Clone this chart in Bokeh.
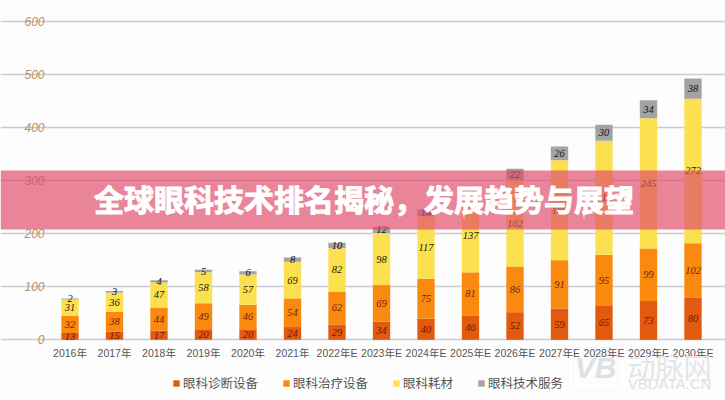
import numpy as np
from bokeh.embed import file_html
from bokeh.resources import INLINE
from bokeh.plotting import figure
from bokeh.models import (ColumnDataSource, LabelSet, BoxAnnotation, Label, Legend, LegendItem,
                          FixedTicker, LinearAxis, Grid, Range1d)

years = ["2016年", "2017年", "2018年", "2019年", "2020年", "2021年", "2022年E", "2023年E",
         "2024年E", "2025年E", "2026年E", "2027年E", "2028年E", "2029年E", "2030年E"]
diagnosis = [13, 15, 17, 20, 20, 24, 29, 34, 40, 46, 52, 59, 65, 73, 80]
treatment = [32, 38, 44, 49, 46, 54, 62, 69, 75, 81, 86, 91, 95, 99, 102]
consumables = [31, 36, 47, 58, 57, 69, 82, 98, 117, 137, 162, 188, 215, 245, 272]
services = [2, 3, 4, 5, 6, 8, 10, 12, 14, 18, 22, 26, 30, 34, 38]
series_names = ["眼科诊断设备", "眼科治疗设备", "眼科耗材", "眼科技术服务"]
y_ticks = [0, 100, 200, 300, 400, 500, 600]
title_text = "全球眼科技术排名揭秘，发展趋势与展望"

colors = ["#e25a10", "#fa8a0f", "#fde050", "#a3a3a5"]
label_colors = ["#6e1a06", "#6e2806", "#22220c", "#111111"]
CJK = "Noto Sans CJK SC"
LATIN = "Liberation Sans"
MIXED = "'Liberation Sans', 'Noto Sans CJK SC'"

idx = list(range(len(years)))
keys = ["a", "b", "c", "d"]
series = [diagnosis, treatment, consumables, services]
data = {"x": idx}
data.update({k: v for k, v in zip(keys, series)})
source = ColumnDataSource(data)

W, H = 725, 400
px_per_cat = 44.5
first_cx = 69.5
zero_py = 339.3
px_per_unit = 0.531

p = figure(width=W, height=H,
           x_range=Range1d(-first_cx / px_per_cat, (W - first_cx) / px_per_cat),
           y_range=Range1d(-(H - zero_py) / px_per_unit, zero_py / px_per_unit),
           x_axis_type=None, y_axis_type=None,
           output_backend="svg", toolbar_location=None,
           min_border=0, min_border_left=0, min_border_right=0, min_border_top=0, min_border_bottom=0,
           background_fill_color="#fdfdfe", border_fill_color="#fdfdfe")
p.outline_line_color = None
p.grid.visible = False

left_edge = (48 - first_cx) / px_per_cat
right_edge = (715 - first_cx) / px_per_cat
ticker_y = FixedTicker(ticks=y_ticks)
grid = Grid(dimension=1, ticker=ticker_y, grid_line_color="#c9ccd3", grid_line_width=1.5,
            bounds=(left_edge, right_edge))
p.add_layout(grid)

rs = p.vbar_stack(keys, x="x", width=0.39, color=colors, line_color=None, source=source)

bottom = np.zeros(len(years))
for vals, col in zip(series, label_colors):
    vals = np.array(vals, dtype=float)
    mid = bottom + vals / 2
    bottom = bottom + vals
    s = ColumnDataSource(dict(x=idx, y=mid, t=[str(int(v)) for v in vals]))
    p.add_layout(LabelSet(x="x", y="y", text="t", source=s, text_align="center",
                          text_baseline="middle", text_font=LATIN, text_font_style="italic",
                          text_font_size="10.5px", text_color=col))

yaxis = LinearAxis(ticker=ticker_y, fixed_location=left_edge)
xaxis = LinearAxis(ticker=FixedTicker(ticks=idx), fixed_location=0,
                   major_label_overrides={i: y for i, y in zip(idx, years)})
for ax in (xaxis, yaxis):
    ax.axis_line_color = None
    ax.major_tick_line_color = None
    ax.minor_tick_line_color = None
    ax.major_tick_in = 0
    ax.major_tick_out = 0
yaxis.major_label_text_font = LATIN
yaxis.major_label_text_font_style = "italic"
yaxis.major_label_text_font_size = "12px"
yaxis.major_label_text_color = "#b8925e"
yaxis.major_label_standoff = 4
xaxis.major_label_text_font = MIXED
xaxis.major_label_text_font_size = "10.5px"
xaxis.major_label_text_color = "#555555"
xaxis.major_label_standoff = 7
p.add_layout(yaxis, "left")
p.add_layout(xaxis, "below")

legend = Legend(items=[LegendItem(label=n, renderers=[r]) for n, r in zip(series_names, rs)],
                orientation="horizontal", location=(172, 8), padding=0, margin=0, spacing=24,
                glyph_width=8, glyph_height=8, label_standoff=3,
                label_text_font=CJK, label_text_font_size="12.5px", label_text_color="#555555",
                background_fill_alpha=0, border_line_color=None)
p.add_layout(legend)

# watermark
p.add_layout(BoxAnnotation(left=573, right=617, top=347, bottom=390,
                           left_units="canvas", right_units="canvas", top_units="canvas", bottom_units="canvas",
                           fill_alpha=0, line_color="#e2e3e6", line_width=1, border_radius=4))
p.add_layout(Label(x=595, y=367, x_units="canvas", y_units="canvas", text="VB", text_font=LATIN,
                   text_font_style="bold italic", text_font_size="30px", text_color="#dfe0e3",
                   text_align="center", text_baseline="middle"))
p.add_layout(Label(x=669, y=366, x_units="canvas", y_units="canvas", text="动脉网", text_font=CJK,
                   text_font_size="28px", text_color="#e4e5e8", text_align="center", text_baseline="middle"))
p.add_layout(Label(x=669, y=383, x_units="canvas", y_units="canvas", text="VBDATA.CN", text_font=LATIN,
                   text_font_size="15px", text_color="#dfe0e3", text_align="center", text_baseline="middle"))

# banner
p.add_layout(BoxAnnotation(left=0, right=W, top=170, bottom=229,
                           left_units="canvas", right_units="canvas", top_units="canvas", bottom_units="canvas",
                           fill_color="#df4d6b", fill_alpha=0.69, line_color=None, level="overlay"))
p.add_layout(Label(x=363.5, y=197.5, x_units="canvas", y_units="canvas", text=title_text,
                   text_font=CJK, text_font_style="bold", text_font_size="30px", text_color="#ffffff",
                   text_outline_color="#ffffff", text_align="center", text_baseline="middle", level="overlay"))

open("out.html", "w").write(file_html(p, INLINE))
